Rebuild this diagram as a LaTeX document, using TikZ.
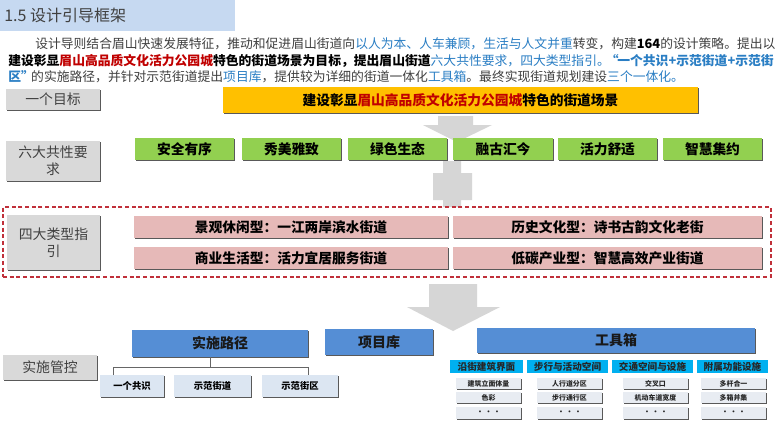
\documentclass[tikz,border=0pt]{standalone}
\usepackage{fontspec}
\setmainfont{Noto Sans CJK SC}
\usetikzlibrary{shadows}
\definecolor{hdr}{HTML}{C6D9F1}
\definecolor{txt}{HTML}{404040}
\definecolor{tblue}{HTML}{2A7EC4}
\definecolor{dred}{HTML}{C00000}
\definecolor{lgray}{HTML}{D9D9D9}
\definecolor{yel}{HTML}{FFC000}
\definecolor{grn}{HTML}{92D050}
\definecolor{pnk}{HTML}{E6B9B8}
\definecolor{bblu}{HTML}{558ED5}
\definecolor{lblu}{HTML}{DCE6F2}
\definecolor{cyn}{HTML}{00B0F0}
\definecolor{sgry}{HTML}{E8ECF2}
\definecolor{agray}{HTML}{D6D6D6}
\definecolor{dashr}{HTML}{C0303A}
\newcommand\mybox[7]{\node[#6, minimum width={(#4-#2)*0.75pt}, minimum height={(#5-#3)*0.75pt}] (#1) at ({(#2+#4)/2},{(#3+#5)/2}) {#7};}
\begin{document}
\begin{tikzpicture}[x=0.75pt,y=-0.75pt,
 shd/.style={drop shadow={shadow xshift=1.1pt,shadow yshift=-1.1pt,fill=black!72,opacity=0.9}},
 base/.style={inner sep=0pt, outer sep=0pt, align=center, shd},
 lbl/.style={base, fill=lgray, text=txt, font=\fontsize{10.4}{12.5}\selectfont},
 ybox/.style={base, fill=yel, font=\bfseries\fontsize{10.3}{12}\selectfont},
 gbox/.style={base, fill=grn, font=\bfseries\fontsize{10.3}{12}\selectfont},
 pbox/.style={base, fill=pnk, font=\bfseries\fontsize{10.3}{12}\selectfont},
 bbox/.style={base, fill=bblu, text=black!90, font=\bfseries\fontsize{10.5}{12}\selectfont},
 cbox/.style={base, fill=lblu, font=\bfseries\fontsize{7}{8}\selectfont},
 hbox/.style={inner sep=0pt, outer sep=0pt, fill=cyn, text=black!85, font=\bfseries\fontsize{7.2}{8}\selectfont},
 sbox/.style={base, fill=sgry, text=black!85, font=\bfseries\fontsize{5.2}{6}\selectfont},
 grpbox/.style={inner sep=0pt, draw=dashr, line width=0.8pt, dash pattern=on 3pt off 2pt},
 para/.style={anchor=west, inner sep=0pt, text=txt, font=\fontsize{9.6}{11}\selectfont},
 arr/.style={fill=agray, draw=none},
 tline/.style={draw=black!60, line width=0.6pt}
]
\useasboundingbox (0,0) rectangle (780,426);
\fill[white] (0,0) rectangle (780,426);
% header band
\mybox{band}{0}{0}{235}{31}{inner sep=0pt, fill=hdr}{}
\node[anchor=west, inner sep=0pt, text=txt, font=\fontsize{12}{14}\selectfont] (title) at (4,15) {1.5 设计引导框架};
% paragraph
\node[para] (p1) at (35,44) {设计导则结合眉山快速发展特征，推动和促进眉山街道向\textcolor{tblue}{以人为本、人车兼顾，生活与人文并重}转变，构建\textbf{\textcolor{black}{164}}的设计策略。提出以};
\node[para] (p2) at (8,61) {\textbf{\textcolor{black}{建设彰显\textcolor{dred}{眉山高品质文化活力公园城}特色的街道场景为目标，提出眉山街道}}\textcolor{tblue}{六大共性要求，四大类型指引。\kern-3pt\textbf{“\kern-1pt一个共识+示范街道+示范街}}};
\node[para] (p3) at (8,77) {\textcolor{tblue}{\textbf{区”}}\kern-2pt的实施路径，并针对示范街道提出\textcolor{tblue}{项目库}，提供较为详细的街道一体化\textcolor{tblue}{工具箱}。最终实现街道规划建设\textcolor{tblue}{三个一体化。}};
% arrows
\path[arr] (438,116) -- (473,116) -- (473,125) -- (492,125) -- (457,142) -- (423,125) -- (438,125) -- cycle;
\path[arr] (443,161) -- (461,161) -- (461,173) -- (472,173) -- (472,200) -- (461,200) -- (461,207) -- (443,207) -- (443,200) -- (433,200) -- (433,173) -- (443,173) -- cycle;
\path[arr] (429,284) -- (477,284) -- (477,307) -- (500,307) -- (453,331) -- (407,307) -- (429,307) -- cycle;
% left labels
\mybox{l1}{6}{89}{100}{110}{lbl}{一个目标}
\mybox{l2}{6}{141}{100}{181}{lbl}{六大共性要\\求}
\mybox{l3}{7}{215}{100}{270}{lbl}{四大类型指\\引}
\mybox{l4}{3}{355}{97}{380}{lbl}{实施管控}
% goal
\mybox{goal}{223}{87}{698}{113}{ybox}{建设彰显\textcolor{dred}{眉山高品质文化活力公园城}特色的街道场景}
% six requirements
\mybox{g1}{135}{138}{234}{160}{gbox}{安全有序}
\mybox{g2}{242}{138}{341}{160}{gbox}{秀美雅致}
\mybox{g3}{348}{138}{447}{160}{gbox}{绿色生态}
\mybox{g4}{453}{138}{553}{160}{gbox}{融古汇今}
\mybox{g5}{558}{138}{657}{160}{gbox}{活力舒适}
\mybox{g6}{663}{138}{762}{160}{gbox}{智慧集约}
% four types
\mybox{grp}{3}{207}{771}{277}{grpbox}{}
\mybox{t1}{134}{216}{448}{238}{pbox}{景观休闲型：一江两岸滨水街道}
\mybox{t2}{134}{247}{448}{269}{pbox}{商业生活型：活力宜居服务街道}
\mybox{t3}{453}{216}{762}{238}{pbox}{历史文化型：诗书古韵文化老街}
\mybox{t4}{453}{247}{762}{269}{pbox}{低碳产业型：智慧高效产业街道}
% implementation
\mybox{path}{132}{330}{308}{357}{bbox}{实施路径}
\mybox{lib}{325}{329}{433}{355}{bbox}{项目库}
\mybox{tool}{477}{328}{755}{353}{bbox}{工具箱}
\mybox{c1}{100}{375}{164}{397}{cbox}{一个共识}
\mybox{c2}{174}{375}{251}{397}{cbox}{示范街道}
\mybox{c3}{262}{375}{338}{397}{cbox}{示范街区}
\coordinate (jT) at (210,367);
\coordinate (jL) at (113,367);
\coordinate (jR) at (308,367);
\draw[tline] (jT |- path.south) -- (jT);
\draw[tline] (jL |- c1.north) -- (jL) -- (jR) -- (jR |- c3.north);
% toolbox headers
\mybox{h1}{450}{360}{523}{373}{hbox}{沿街建筑界面}
\mybox{h2}{527}{360}{608}{373}{hbox}{步行与活动空间}
\mybox{h3}{612}{360}{693}{373}{hbox}{交通空间与设施}
\mybox{h4}{697}{360}{768}{373}{hbox}{附属功能设施}
% toolbox items
\mybox{a1}{456}{378}{521}{389}{sbox}{建筑立面体量}
\mybox{a2}{456}{392}{521}{403}{sbox}{色彩}
\mybox{a3}{456}{407}{521}{419}{sbox}{· · ·}
\mybox{b1}{537}{378}{602}{389}{sbox}{人行道分区}
\mybox{b2}{537}{392}{602}{403}{sbox}{步行通行区}
\mybox{b3}{537}{407}{602}{419}{sbox}{· · ·}
\mybox{d1}{623}{378}{688}{389}{sbox}{交叉口}
\mybox{d2}{623}{392}{688}{403}{sbox}{机动车道宽度}
\mybox{d3}{623}{407}{688}{419}{sbox}{· · ·}
\mybox{e1}{701}{378}{766}{389}{sbox}{多杆合一}
\mybox{e2}{701}{392}{766}{403}{sbox}{多箱并集}
\mybox{e3}{701}{407}{766}{419}{sbox}{· · ·}
\end{tikzpicture}
\end{document}
